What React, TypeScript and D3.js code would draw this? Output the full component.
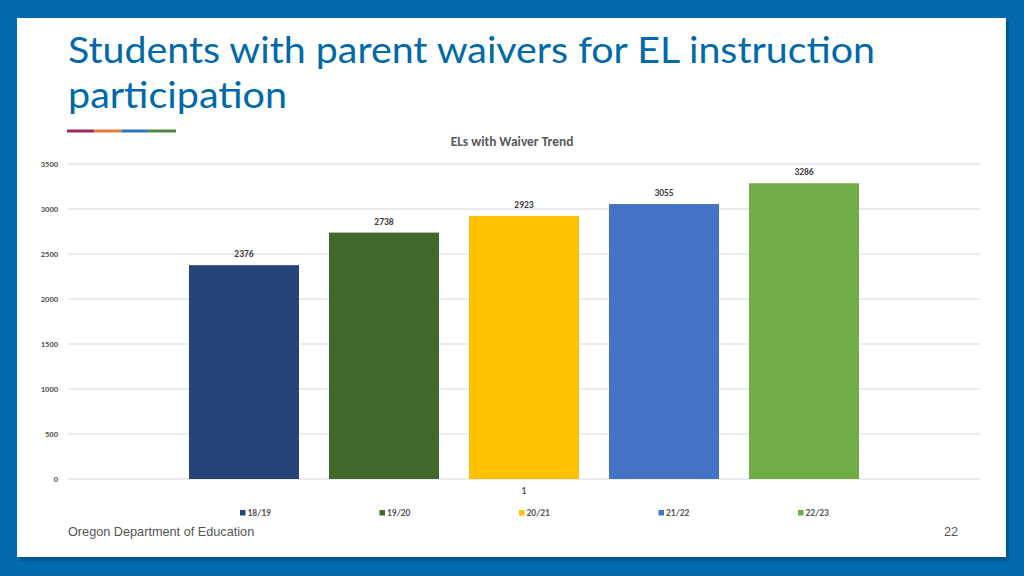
import React from "react";
import * as d3 from "d3";

const categories = ["1"];
const seriesNames = ["18/19", "19/20", "20/21", "21/22", "22/23"];
const seriesValues = [2376, 2738, 2923, 3055, 3286];
const seriesColors = ["#264478", "#43682b", "#ffc000", "#4472c4", "#70ad47"];
const yTicks = [0, 500, 1000, 1500, 2000, 2500, 3000, 3500];
const accentColors = ["#9b2d5e", "#e07b39", "#2e75b6", "#4a8a3a"];
const titleLines = ["Students with parent waivers for EL instruction", "participation"];

export default function App() {
  const W = 1024, H = 576;
  const left = 68, right = 980, top = 164, bottom = 479;
  const y = d3.scaleLinear().domain([0, 3500]).range([bottom, top]);
  const x = d3.scaleBand<string>().domain(seriesNames).range([left, right]).paddingInner(0.2143).paddingOuter(0.864);
  const cat = d3.scaleBand<string>().domain(categories).range([left, right]);
  const legendX = d3.scalePoint<string>().domain(seriesNames).range([240, 798]);
  const chartFont = "Carlito, 'Open Sans', 'Noto Sans', sans-serif";
  const titleLengths = [807, 219];
  return (
    <svg width={W} height={H} style={{ position: "absolute", left: 0, top: 0 }}>
      <rect x={0} y={0} width={W} height={H} fill="#006aad" />
      <rect x={20} y={21} width={989} height={540} fill="#00578f" />
      <rect x={17} y={18} width={989} height={539} fill="#ffffff" />
      {titleLines.map((t, i) => (
        <text key={t} x={68} y={63 + i * 45} fontFamily="Lato, 'Noto Sans', sans-serif" fontSize={37} fill="#0069aa"
          textLength={titleLengths[i]} lengthAdjust="spacingAndGlyphs">{t}</text>
      ))}
      {accentColors.map((c, i) => (
        <rect key={c} x={67 + i * 27.25} y={129.5} width={27.25} height={3} fill={c} />
      ))}
      <text x={512} y={146} textAnchor="middle" fontFamily={chartFont} fontWeight="bold" fontSize={13.4} fill="#595959">ELs with Waiver Trend</text>
      {yTicks.map(t => (
        <g key={t}>
          <line x1={left} x2={right} y1={y(t)} y2={y(t)} stroke="#d9d9d9" strokeWidth={1} />
          <text x={58} y={y(t) + 3} textAnchor="end" fontFamily={chartFont} fontWeight="bold" fontSize={8.5} fill="#595959">{t}</text>
        </g>
      ))}
      {seriesNames.map((s, i) => (
        <g key={s}>
          <rect x={x(s)} y={y(seriesValues[i])} width={x.bandwidth()} height={bottom - y(seriesValues[i])} fill={seriesColors[i]} />
          <text x={(x(s) as number) + x.bandwidth() / 2} y={y(seriesValues[i]) - 8} textAnchor="middle" fontFamily={chartFont} fontWeight="bold" fontSize={9.5} fill="#404040">{seriesValues[i]}</text>
        </g>
      ))}
      {categories.map(c => (
        <text key={c} x={(cat(c) as number) + cat.bandwidth() / 2} y={494} textAnchor="middle" fontFamily={chartFont} fontWeight="bold" fontSize={9.5} fill="#595959">{c}</text>
      ))}
      {seriesNames.map((s, i) => (
        <g key={"lg" + s}>
          <rect x={legendX(s)} y={510} width={5.5} height={5.5} fill={seriesColors[i]} />
          <text x={(legendX(s) as number) + 7.5} y={516} fontFamily={chartFont} fontWeight="bold" fontSize={9.5} fill="#595959">{s}</text>
        </g>
      ))}
      <text x={68} y={536} fontFamily="'Liberation Sans', Arial, sans-serif" fontSize={12.7} fill="#555555">Oregon Department of Education</text>
      <text x={958} y={536} textAnchor="end" fontFamily="'Liberation Sans', Arial, sans-serif" fontSize={12.7} fill="#555555">22</text>
    </svg>
  );
}
